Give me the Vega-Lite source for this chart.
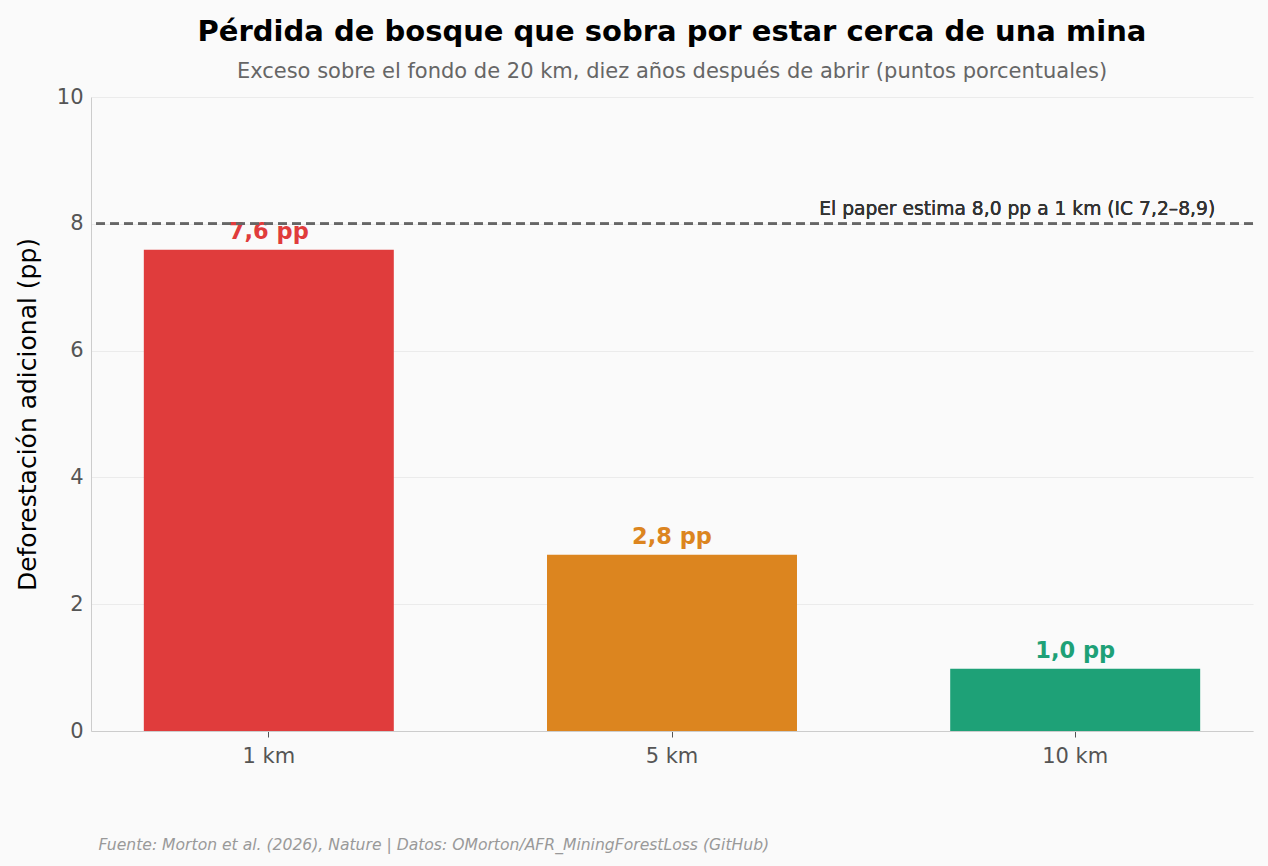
{
  "$schema": "https://vega.github.io/schema/vega-lite/v6.json",
  "width": 1162,
  "height": 634,
  "autosize": {"type": "none"},
  "padding": {"left": 91, "top": 97, "right": 15, "bottom": 135},
  "background": "#fafafa",
  "config": {
    "font": "DejaVu Sans",
    "text": {"font": "DejaVu Sans"},
    "view": {"stroke": null},
    "axis": {"gridColor": "#ebebeb", "domainColor": "#cccccc", "tickColor": "#555555"}
  },
  "title": {
    "text": "Pérdida de bosque que sobra por estar cerca de una mina",
    "subtitle": "Exceso sobre el fondo de 20 km, diez años después de abrir (puntos porcentuales)",
    "anchor": "middle",
    "font": "DejaVu Sans",
    "subtitleFont": "DejaVu Sans",
    "fontSize": 29,
    "fontWeight": "bold",
    "color": "#000000",
    "subtitleFontSize": 21,
    "subtitleColor": "#666666",
    "subtitlePadding": 14,
    "offset": 4
  },
  "data": {
    "values": [
      {"distancia": "1 km", "valor": 7.59, "etiqueta": "7,6 pp"},
      {"distancia": "5 km", "valor": 2.78, "etiqueta": "2,8 pp"},
      {"distancia": "10 km", "valor": 0.98, "etiqueta": "1,0 pp"}
    ]
  },
  "encoding": {
    "x": {
      "field": "distancia",
      "type": "nominal",
      "sort": ["1 km", "5 km", "10 km"],
      "scale": {"paddingInner": 0.38, "paddingOuter": 0.131},
      "axis": {
        "title": "Fuente: Morton et al. (2026), Nature | Datos: OMorton/AFR_MiningForestLoss (GitHub)",
        "titleFontStyle": "italic",
        "titleFontWeight": "normal",
        "titleFontSize": 15.6,
        "titleColor": "#999999",
        "titleAnchor": "start",
        "titleAlign": "left",
        "titleBaseline": "alphabetic",
        "titleX": 7,
        "titleY": 118,
        "labelAngle": 0,
        "labelFontSize": 21,
        "labelColor": "#555555",
        "labelPadding": 8,
        "tickSize": 6,
        "grid": false
      }
    }
  },
  "layer": [
    {
      "mark": {"type": "bar"},
      "encoding": {
        "y": {
          "field": "valor",
          "type": "quantitative",
          "scale": {"domain": [0, 10]},
          "axis": {
            "title": "Deforestación adicional (pp)",
            "titleFontSize": 25,
            "titleFontWeight": "normal",
            "titleColor": "#000000",
            "titlePadding": 16,
            "labelFontSize": 21,
            "labelColor": "#555555",
            "labelPadding": 8,
            "labelOverlap": false,
            "format": "d",
            "ticks": false,
            "values": [0, 2, 4, 6, 8, 10]
          }
        },
        "color": {
          "field": "distancia",
          "type": "nominal",
          "scale": {"domain": ["1 km", "5 km", "10 km"], "range": ["#e03c3c", "#dc851f", "#1ea177"]},
          "legend": null
        }
      }
    },
    {
      "mark": {"type": "text", "font": "DejaVu Sans", "fontSize": 22.5, "fontWeight": "bold", "baseline": "bottom", "dy": -6},
      "encoding": {
        "y": {"field": "valor", "type": "quantitative"},
        "text": {"field": "etiqueta"},
        "color": {"field": "distancia", "type": "nominal", "legend": null}
      }
    },
    {
      "mark": {"type": "rule", "color": "#666666", "strokeWidth": 2.4, "strokeDash": [9, 5]},
      "encoding": {"y": {"datum": 8}, "x": null}
    },
    {
      "mark": {"type": "text", "font": "DejaVu Sans", "fontSize": 18.7, "fontWeight": "normal", "color": "#333333", "align": "right", "baseline": "alphabetic", "dy": -9, "dx": 140},
      "encoding": {
        "y": {"datum": 8},
        "x": {"datum": "10 km"},
        "text": {"value": "El paper estima 8,0 pp a 1 km (IC 7,2–8,9)"}
      }
    }
  ]
}
